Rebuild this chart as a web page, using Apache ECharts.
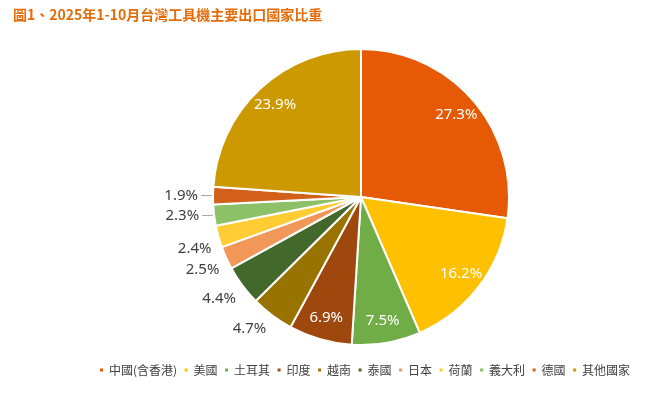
<!DOCTYPE html>
<html><head><meta charset="utf-8">
<script src="https://cdn.jsdelivr.net/npm/echarts@6/dist/echarts.min.js"></script>
<style>html,body{margin:0;padding:0;background:#fff}#c{width:646px;height:394px}</style>
</head><body><div id="c"></div>
<script>
const categories = ['中國(含香港)','美國','土耳其','印度','越南','泰國','日本','荷蘭','義大利','德國','其他國家'];
const shares = [27.3,16.2,7.5,6.9,4.7,4.4,2.5,2.4,2.3,1.9,23.9];
const colors = ['#E65905','#FFC000','#70AD47','#9E480E','#997300','#43682B','#F1975A','#FFCD33','#8CC168','#D2601A','#CC9900'];
const titleText = '圖1、2025年1-10月台灣工具機主要出口國家比重';

const fontFam = '"Noto Sans","Noto Sans CJK TC",sans-serif';
const insideMin = 6;
const lineShown = v => v < 2.35;

const mainData = categories.map((n,i)=>({
  name:n, value:shares[i], itemStyle:{color:colors[i]},
  label:{show: shares[i] < insideMin},
  labelLine:{show: lineShown(shares[i])}
}));
const overlayData = categories.map((n,i)=>({
  name:n, value:shares[i],
  label:{show: shares[i] >= insideMin}
}));

const chart = echarts.init(document.getElementById('c'));
chart.setOption({
  animation:false,
  color: colors,
  title:{text:titleText,left:8,top:3,textStyle:{color:'#E36C09',fontSize:14,fontWeight:'bold',fontFamily:'"Noto Sans CJK TC",sans-serif'}},
  legend:{
    data:categories, left:93, top:359, width:620, itemWidth:5, itemHeight:5, itemGap:5.5, icon:'rect',
    textStyle:{color:'#404040',fontSize:12,fontFamily:'"Noto Sans CJK TC",sans-serif'}
  },
  series:[
    {
      type:'pie', center:[361,197], radius:[0,148], startAngle:90, clockwise:true,
      avoidLabelOverlap:false,
      itemStyle:{borderColor:'#fff',borderWidth:2},
      label:{position:'outside',formatter:'{c}%',color:'#404040',fontSize:15,fontFamily:fontFam,distanceToLabelLine:3},
      labelLine:{length:3,length2:9,lineStyle:{color:'#A6A6A6',width:1}},
      labelLayout:function(p){
        return lineShown(shares[p.dataIndex]) ? {} : {dx:8, dy:11};
      },
      data:mainData
    },
    {
      type:'pie', center:[361,197], radius:[98,148], startAngle:90, clockwise:true,
      silent:true, avoidLabelOverlap:false,
      itemStyle:{color:'rgba(0,0,0,0)',borderWidth:0},
      label:{position:'inside',formatter:'{c}%',color:'#fff',fontSize:15,fontFamily:fontFam},
      labelLine:{show:false},
      data:overlayData
    }
  ]
});
</script></body></html>
